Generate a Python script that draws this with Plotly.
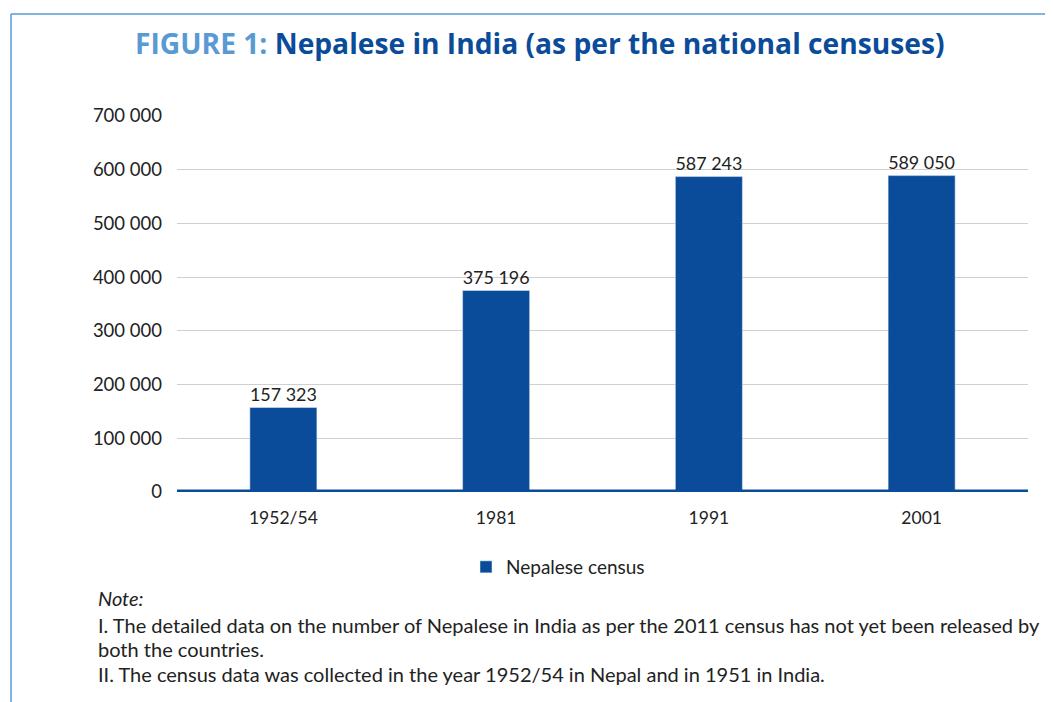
import plotly.graph_objects as go

categories = ["1952/54", "1981", "1991", "2001"]
values = [157323, 375196, 587243, 589050]
tick_values = [0, 100000, 200000, 300000, 400000, 500000, 600000, 700000]
series_name = "Nepalese census"

W, H = 1053, 702
OFF = 8  # page body offset
# plot-area edges in screen pixels
L, R, T, B = 177, 1028, 116, 492

def px(x):
    return (x - L) / (R - L)

def py(y):
    return (B - y) / (B - T)

def fmt(v):
    return f"{v:,}".replace(",", " ")

BAR = "#0b4c9a"
LIGHT = "#5a9ad4"
TXT = "#222222"
FONT = "Lato, 'Open Sans', sans-serif"

fig = go.Figure()
fig.add_trace(go.Bar(
    x=categories, y=values, name=series_name,
    marker_color=BAR,
    text=[fmt(v) for v in values], textposition="outside",
    textfont=dict(size=18.5, color=TXT, family=FONT),
    cliponaxis=False,
))

fig.update_layout(
    width=W, height=H,
    margin=dict(l=L - OFF, r=W - (R - OFF), t=T - OFF, b=H - (B - OFF)),
    paper_bgcolor="white", plot_bgcolor="white",
    bargap=0.685,
    font=dict(family=FONT, color=TXT, size=18),
    showlegend=True,
    legend=dict(orientation="h", x=px(558), xanchor="center", y=py(567), yanchor="middle",
                font=dict(size=19, color=TXT, family=FONT)),
    xaxis=dict(showgrid=False, ticks="", tickfont=dict(size=17.5, color=TXT), showline=False,
               zeroline=False, ticklabelstandoff=13),
    yaxis=dict(range=[0, 700000], tickvals=tick_values, ticktext=[fmt(v) for v in tick_values],
               showgrid=True, gridcolor="#d0d0d0", gridwidth=1, zeroline=False,
               tickfont=dict(size=18.5, color=TXT), ticks="", ticklabelstandoff=14,
               showline=False),
)

# thick baseline
fig.add_shape(type="line", xref="paper", yref="y", x0=0, x1=1, y0=0, y1=0,
              line=dict(color=BAR, width=5))
# frame lines (top and left)
fig.add_shape(type="line", xref="paper", yref="paper", x0=px(11), x1=px(1070), y0=py(14), y1=py(14),
              line=dict(color=LIGHT, width=1.5))
fig.add_shape(type="line", xref="paper", yref="paper", x0=px(11), x1=px(11), y0=py(14), y1=py(720),
              line=dict(color=LIGHT, width=1.5))

# title
fig.add_annotation(xref="paper", yref="paper", x=px(540), y=py(43), xanchor="center", yanchor="middle",
                   showarrow=False,
                   text=f"<b><span style='color:{LIGHT}'>FIGURE 1:</span> Nepalese in India (as per the national censuses)</b>",
                   font=dict(size=28.2, color=BAR, family="'Open Sans', Lato, sans-serif"))

notes = [
    ("<i>Note:</i>", 598),
    ("I. The detailed data on the number of Nepalese in India as per the 2011 census has not yet been released by", 625),
    ("both the countries.", 649),
    ("II. The census data was collected in the year 1952/54 in Nepal and in 1951 in India.", 674),
]
for t, y in notes:
    fig.add_annotation(xref="paper", yref="paper", x=px(96), y=py(y), xanchor="left", yanchor="middle",
                       showarrow=False, text=t, font=dict(size=20, color=TXT, family=FONT))

fig.write_html("out.html")
